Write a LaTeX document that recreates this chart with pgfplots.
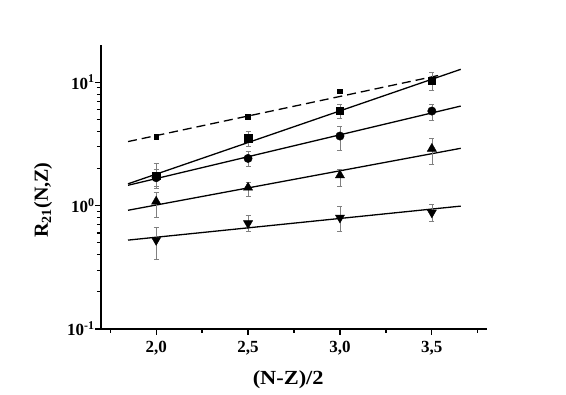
\documentclass[border=0pt]{standalone}
\usepackage{fontspec}
\setmainfont{Liberation Serif}
\usepackage{pgfplots}
\pgfplotsset{compat=1.18}
\begin{document}
\begin{tikzpicture}[x=1pt,y=1pt]
\useasboundingbox (0,0) rectangle (566,395);
\begin{axis}[at={(101pt,66pt)}, anchor=south west, scale only axis,
  width=386pt, height=284pt,
  ymode=log, xmin=1.7, xmax=3.8, ymin=0.1, ymax=20,
  axis lines*=left, axis line style={line width=1.8pt},
  tick align=outside, major tick length=6pt, minor tick length=4pt,
  every tick/.style={black, line width=1.2pt},
  xtick={2,2.5,3,3.5}, minor xtick={1.75,2.25,2.75,3.25,3.75},
  xticklabels={{2,0},{2,5},{3,0},{3,5}},
  ytick={0.1,1,10}, yticklabels={10\textsuperscript{-1},10\textsuperscript{0},10\textsuperscript{1}},
  tick label style={font=\fontsize{17}{19}\selectfont\bfseries},
  xticklabel style={yshift=-3pt}, yticklabel style={xshift=3pt},
  xlabel={(N-Z)/2}, ylabel={R\textsubscript{21}(N,Z)},
  label style={font=\fontsize{20}{22}\selectfont\bfseries},
  xlabel style={at={(axis description cs:0.485,-0.18)}, anchor=center, xscale=1.12},
  ylabel style={at={(axis description cs:-0.15,0.454)}, anchor=center},
  clip=false]
% fits
\addplot[black, line width=1.3pt] coordinates {(1.847,1.50) (3.657,12.7)};
\addplot[black, line width=1.3pt] coordinates {(1.847,1.46) (3.657,6.40)};
\addplot[black, line width=1.3pt] coordinates {(1.847,0.916) (3.657,2.91)};
\addplot[black, line width=1.3pt] coordinates {(1.847,0.525) (3.657,0.99)};
\addplot[black, line width=1.3pt, dash pattern=on 9pt off 5pt] coordinates {(1.847,3.30) (3.557,11.5)};
% data
\pgfplotsset{errstyle/.style={error bars/.cd, y dir=both, y explicit,
  error bar style={gray, line width=0.7pt},
  error mark options={rotate=90, mark size=2.5pt, gray, line width=0.7pt}}}
\addplot[only marks, mark=square*, mark size=2.4pt, black] coordinates {
(2.0,3.62) (2.5,5.27) (3.0,8.44)};
\addplot[only marks, mark=square*, mark size=3.7pt, black, errstyle] coordinates {
(2.0,1.75) += (0,0.44) -= (0,0.36)
(2.5,3.52) += (0,0.51) -= (0,0.49)
(3.0,5.86) += (0,0.74) -= (0,0.78)
(3.5,10.3) += (0,1.8) -= (0,1.65)};
\addplot[only marks, mark=*, mark size=4.2pt, black, errstyle] coordinates {
(2.0,1.68) += (0,0.30) -= (0,0.25)
(2.5,2.41) += (0,0.35) -= (0,0.33)
(3.0,3.66) += (0,0.76) -= (0,0.85)
(3.5,5.83) += (0,0.82) -= (0,0.89)};
\addplot[only marks, mark=triangle*, mark size=5.3pt, black, errstyle] coordinates {
(2.0,1.08) += (0,0.20) -= (0,0.27)
(2.5,1.40) += (0,0.14) -= (0,0.21)
(3.0,1.76) += (0,0.22) -= (0,0.33)
(3.5,2.89) += (0,0.63) -= (0,0.74)};
\addplot[only marks, mark=triangle*, mark size=5.3pt, mark options={rotate=180}, black, errstyle] coordinates {
(2.0,0.525) += (0,0.14) -= (0,0.16)
(2.5,0.718) += (0,0.12) -= (0,0.10)
(3.0,0.798) += (0,0.18) -= (0,0.18)
(3.5,0.877) += (0,0.15) -= (0,0.13)};
\end{axis}
\end{tikzpicture}
\end{document}
